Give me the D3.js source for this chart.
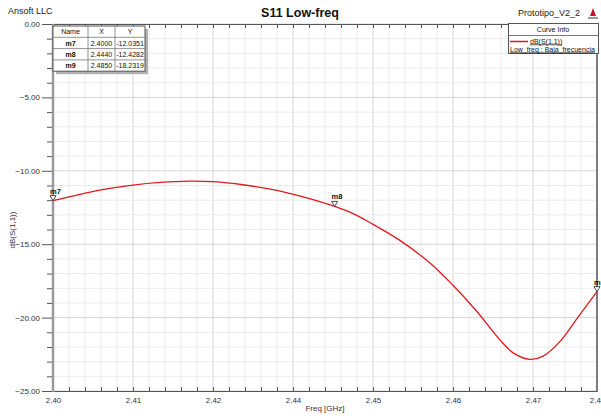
<!DOCTYPE html>
<html>
<head>
<meta charset="utf-8">
<script src="https://cdn.jsdelivr.net/npm/d3@7"></script>
<style>
  html, body { margin: 0; padding: 0; background: #fff; }
  svg { display: block; font-family: "Liberation Sans", Arial, sans-serif; }
</style>
</head>
<body>
<svg id="chart" width="601" height="416"></svg>
<script>
// S11 sweep, low band
const freq = [2.400, 2.4073, 2.4125, 2.4167, 2.4214, 2.425, 2.4297, 2.435, 2.4391, 2.444,
              2.4469, 2.450, 2.4542, 2.4589, 2.4625, 2.4663, 2.4698, 2.4719, 2.4745,
              2.4766, 2.4792, 2.4819, 2.485];
const s11 = [-12.0351, -11.31, -10.97, -10.79, -10.70, -10.74, -10.95, -11.33, -11.78, -12.4282,
             -12.92, -13.65, -14.74, -16.28, -17.80, -19.62, -21.50, -22.40, -22.84,
             -22.62, -21.64, -20.05, -18.2319];

const markerNames = ["m7", "m8", "m9"];
const markerX = [2.4000, 2.4440, 2.4850];
const markerY = [-12.0351, -12.4282, -18.2319];

const xTickValues = [2.40, 2.4125, 2.425, 2.4375, 2.45, 2.4625, 2.475, 2.485];
const xTickLabels = ["2.40", "2.41", "2.42", "2.44", "2.45", "2.46", "2.47", "2.48"];
const yTickValues = [0, -5, -10, -15, -20, -25];

const svg = d3.select("#chart");
const L = 53, R = 597, T = 24, B = 391;

const x = d3.scaleLinear().domain([2.40, 2.485]).range([L, R]);
const y = d3.scaleLinear().domain([-25, 0]).range([B, T]);

// grid: minor every 0.0025 GHz / 1 dB, major at labelled ticks
const xMinor = d3.range(0, 35).map(i => 2.40 + i * 0.0025);
const yMinor = d3.range(-25, 1, 1);
const grid = svg.append("g");
grid.selectAll(".vx").data(xMinor).join("line")
  .attr("x1", d => x(d)).attr("x2", d => x(d)).attr("y1", T).attr("y2", B)
  .attr("stroke", (d, i) => i % 5 === 0 ? "#d6d6d6" : "#ebebeb").attr("stroke-width", 1);
grid.selectAll(".hy").data(yMinor).join("line")
  .attr("x1", L).attr("x2", R).attr("y1", d => y(d)).attr("y2", d => y(d))
  .attr("stroke", d => d % 5 === 0 ? "#d6d6d6" : "#ebebeb").attr("stroke-width", 1);

// frame lines
svg.append("line").attr("x1", 43).attr("x2", R).attr("y1", T + 0.5).attr("y2", T + 0.5)
  .attr("stroke", "#555").attr("stroke-width", 1);
svg.append("line").attr("x1", 43).attr("x2", R).attr("y1", B + 0.5).attr("y2", B + 0.5)
  .attr("stroke", "#555").attr("stroke-width", 1);
svg.append("line").attr("x1", L).attr("x2", L).attr("y1", T).attr("y2", B + 1)
  .attr("stroke", "#9a9a9a").attr("stroke-width", 2.5);
svg.append("line").attr("x1", R).attr("x2", R).attr("y1", T).attr("y2", B + 1)
  .attr("stroke", "#555").attr("stroke-width", 1.5);

// small ticks on top and bottom edges
const edgeTicks = svg.append("g").attr("stroke", "#555").attr("stroke-width", 1);
edgeTicks.selectAll(".tt").data(xMinor.slice(1, -1)).join("line")
  .attr("x1", d => Math.round(x(d)) + 0.5).attr("x2", d => Math.round(x(d)) + 0.5)
  .attr("y1", T).attr("y2", T + 4);
edgeTicks.selectAll(".bt").data(xMinor.slice(1, -1)).join("line")
  .attr("x1", d => Math.round(x(d)) + 0.5).attr("x2", d => Math.round(x(d)) + 0.5)
  .attr("y1", B).attr("y2", B - 4);

// y axis
const yAxis = d3.axisLeft(y).tickValues(yMinor).tickSize(5)
  .tickFormat(d => yTickValues.includes(d) ? d3.format(".2f")(d) : "");
const gy = svg.append("g").attr("transform", `translate(${L - 1},0)`).call(yAxis);
gy.select(".domain").remove();
gy.selectAll(".tick line").attr("stroke", "#555")
  .attr("x2", d => yTickValues.includes(d) ? -10 : -5);
gy.selectAll(".tick text").attr("x", -12).attr("fill", "#333")
  .style("font-size", "8px").style("font-family", "Liberation Sans, Arial, sans-serif");

// x axis labels
const xAxis = d3.axisBottom(x).tickValues(xTickValues).tickSize(0)
  .tickFormat((d, i) => xTickLabels[i]);
const gx = svg.append("g").attr("transform", `translate(0,${B})`).call(xAxis);
gx.select(".domain").remove();
gx.selectAll(".tick text").attr("y", 6).attr("fill", "#333")
  .style("font-size", "8px").style("font-family", "Liberation Sans, Arial, sans-serif");

// titles
svg.append("text").attr("x", 300).attr("y", 17).attr("text-anchor", "middle")
  .attr("font-size", 12.5).attr("font-weight", "bold").attr("fill", "#111").text("S11 Low-freq");
svg.append("text").attr("x", 8).attr("y", 14).attr("font-size", 9).attr("fill", "#222").text("Ansoft LLC");
svg.append("text").attr("x", 580).attr("y", 16).attr("text-anchor", "end")
  .attr("font-size", 9).attr("fill", "#222").text("Prototipo_V2_2");
// logo mark
const logo = svg.append("g").attr("transform", "translate(589,8)");
logo.append("path").attr("d", "M1,8 L4,0 L7,8 Z").attr("fill", "#c8102e");
logo.append("rect").attr("x", -1).attr("y", 9).attr("width", 10).attr("height", 2).attr("fill", "#999");

svg.append("text").attr("transform", "translate(15,230) rotate(-90)").attr("text-anchor", "middle")
  .attr("font-size", 8).attr("fill", "#333").text("dB(S(1,1))");
svg.append("text").attr("x", 325).attr("y", 411).attr("text-anchor", "middle")
  .attr("font-size", 8).attr("fill", "#333").text("Freq [GHz]");

// curve
const pts = freq.map((f, i) => [f, s11[i]]);
svg.append("path").datum(pts)
  .attr("d", d3.line().x(d => x(d[0])).y(d => y(d[1])).curve(d3.curveCatmullRom.alpha(0.5)))
  .attr("fill", "none").attr("stroke", "#e0191f").attr("stroke-width", 1.3);

// markers
const mk = svg.append("g");
markerNames.forEach((n, i) => {
  const mx = x(markerX[i]), my = y(markerY[i]);
  mk.append("path").attr("d", `M${mx - 3},${my - 5} L${mx + 3},${my - 5} L${mx},${my} Z`)
    .attr("fill", "#fff").attr("stroke", "#222").attr("stroke-width", 0.8);
  mk.append("text").attr("x", mx - 3).attr("y", my - 7).attr("font-size", 7.5)
    .attr("font-weight", "bold").attr("fill", "#111").text(n);
});

// marker table
const tX = 53, tY = 26, colW = [35, 27, 30], rowH = 11.3;
const tW = d3.sum(colW), tH = rowH * 4;
const tbl = svg.append("g");
tbl.append("rect").attr("x", tX + 3).attr("y", tY + 3).attr("width", tW).attr("height", tH).attr("fill", "#b0b0b0");
tbl.append("rect").attr("x", tX).attr("y", tY).attr("width", tW).attr("height", tH)
  .attr("fill", "#fff").attr("stroke", "#555").attr("stroke-width", 1);
const rows = [["Name", "X", "Y"]].concat(markerNames.map((n, i) => [n, markerX[i].toFixed(4), markerY[i].toFixed(4)]));
rows.forEach((r, ri) => {
  if (ri > 0) tbl.append("line").attr("x1", tX).attr("x2", tX + tW)
    .attr("y1", tY + ri * rowH).attr("y2", tY + ri * rowH).attr("stroke", "#777").attr("stroke-width", 0.8);
  let cx = tX;
  r.forEach((c, ci) => {
    if (ci > 0 && ri === 0) tbl.append("line").attr("x1", cx).attr("x2", cx)
      .attr("y1", tY).attr("y2", tY + tH).attr("stroke", "#777").attr("stroke-width", 0.8);
    tbl.append("text").attr("x", cx + colW[ci] / 2).attr("y", tY + ri * rowH + 8.3)
      .attr("text-anchor", "middle").attr("font-size", 7)
      .attr("font-weight", ri > 0 && ci === 0 ? "bold" : "normal").attr("fill", "#111").text(c);
    cx += colW[ci];
  });
});

// curve info legend
const lg = svg.append("g");
lg.append("rect").attr("x", 508.5).attr("y", 23.5).attr("width", 90).attr("height", 30)
  .attr("fill", "#fff").attr("stroke", "#555").attr("stroke-width", 1);
lg.append("line").attr("x1", 508.5).attr("x2", 598.5).attr("y1", 35.5).attr("y2", 35.5)
  .attr("stroke", "#555").attr("stroke-width", 0.8);
lg.append("text").attr("x", 553).attr("y", 32).attr("text-anchor", "middle")
  .attr("font-size", 7).attr("fill", "#111").text("Curve Info");
lg.append("line").attr("x1", 510).attr("x2", 528).attr("y1", 41.5).attr("y2", 41.5)
  .attr("stroke", "#e0191f").attr("stroke-width", 1.5);
lg.append("text").attr("x", 530).attr("y", 43.5).attr("font-size", 7).attr("fill", "#111")
  .attr("text-decoration", "underline").text("dB(S(1,1))");
lg.append("text").attr("x", 510).attr("y", 51.5).attr("font-size", 7).attr("fill", "#111")
  .attr("text-decoration", "underline").text("Low_freq : Baja_frecuencia");
</script>
</body>
</html>
